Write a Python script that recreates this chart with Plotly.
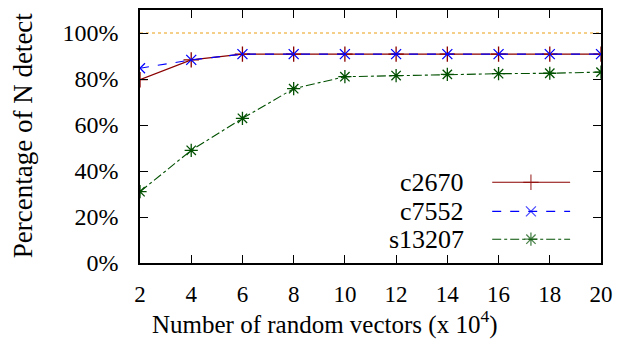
import plotly.graph_objects as go

x_vals = [2, 4, 6, 8, 10, 12, 14, 16, 18, 20]
c2670 = [79.7, 88.3, 90.8, 90.8, 90.8, 90.8, 90.8, 90.8, 90.8, 90.8]
c7552 = [84.7, 88.3, 90.8, 90.8, 90.8, 90.8, 90.8, 90.8, 90.8, 90.8]
s13207 = [31.0, 49.0, 62.9, 75.8, 81.0, 81.5, 82.0, 82.3, 82.5, 83.0]
ref100 = [100] * len(x_vals)
series_names = ["c2670", "c7552", "s13207"]
y_tickvals = [0, 20, 40, 60, 80, 100]
y_ticktext = ["0%", "20%", "40%", "60%", "80%", "100%"]
x_tickvals = x_vals

FONT = "Liberation Serif, Times New Roman, DejaVu Serif, serif"
W, H = 621, 347
ML, MR, MT, MB = 140, 15, 8, 84

styles = [
    dict(color="#8b0000", dash="solid", symbol="cross-thin-open", size=11),
    dict(color="#0000ff", dash="dash", symbol="x-thin-open", size=10),
    dict(color="#005000", dash="dashdot", symbol="asterisk-open", size=11),
]

fig = go.Figure()

fig.add_trace(go.Scatter(x=x_vals, y=ref100, mode="lines",
                         line=dict(color="#f2be60", width=1.5, dash="dot"),
                         showlegend=False, hoverinfo="skip"))

for name, ys, st in zip(series_names, [c2670, c7552, s13207], styles):
    fig.add_trace(go.Scatter(
        x=x_vals, y=ys, mode="lines+markers", name=name,
        line=dict(color=st["color"], width=1.1, dash=st["dash"]),
        marker=dict(symbol=st["symbol"], size=st["size"],
                    line=dict(color=st["color"], width=1.3), color=st["color"]),
        showlegend=False))

# manual gnuplot-style legend (text right, sample on right) on an overlay axis
leg_text_x = 0.708
leg_x0, leg_x1, leg_xm = 0.764, 0.933, 0.848
leg_ys = [0.319, 0.204, 0.094]
annotations = []
for name, st, ly in zip(series_names, styles, leg_ys):
    fig.add_trace(go.Scatter(
        x=[leg_x0, leg_xm, leg_x1], y=[ly, ly, ly], xaxis="x2", yaxis="y2",
        mode="lines+markers",
        line=dict(color=st["color"], width=1.1, dash=st["dash"]),
        marker=dict(symbol=st["symbol"], size=[0, st["size"], 0],
                    line=dict(color=st["color"], width=1.3), color=st["color"]),
        showlegend=False, hoverinfo="skip"))
    annotations.append(dict(xref="paper", yref="paper", x=leg_text_x, y=ly,
                            text=name, showarrow=False, xanchor="right",
                            yanchor="middle",
                            font=dict(family=FONT, size=26, color="black")))

annotations.append(dict(xref="paper", yref="paper",
                        x=(327 - ML) / (W - ML - MR), y=(H - MB - 323) / (H - MT - MB),
                        text="Number of random vectors (x 10<sup>4</sup>)",
                        showarrow=False, xanchor="center", yanchor="middle",
                        font=dict(family=FONT, size=25, color="black")))
annotations.append(dict(xref="paper", yref="paper",
                        x=(22 - ML) / (W - ML - MR), y=(H - MB - 134) / (H - MT - MB),
                        text="Percentage of N detect", textangle=-90,
                        showarrow=False, xanchor="center", yanchor="middle",
                        font=dict(family=FONT, size=27, color="black")))

axis_common = dict(showline=True, linecolor="black", linewidth=1.5, mirror="ticks",
                   ticks="inside", ticklen=8, tickwidth=1, tickcolor="black",
                   showgrid=False, zeroline=False)

fig.update_layout(
    width=W, height=H,
    margin=dict(l=ML, r=MR, t=MT, b=MB),
    paper_bgcolor="white", plot_bgcolor="white",
    xaxis=dict(range=[2, 20], tickvals=x_tickvals, ticklabelstandoff=10,
               tickfont=dict(family=FONT, size=23, color="black"), **axis_common),
    yaxis=dict(range=[0, 110], tickvals=y_tickvals, ticktext=y_ticktext,
               ticklabelstandoff=15,
               tickfont=dict(family=FONT, size=24, color="black"), **axis_common),
    xaxis2=dict(range=[0, 1], overlaying="x", visible=False),
    yaxis2=dict(range=[0, 1], overlaying="y", visible=False),
    annotations=annotations,
    showlegend=False,
)

fig.write_html("out.html")
